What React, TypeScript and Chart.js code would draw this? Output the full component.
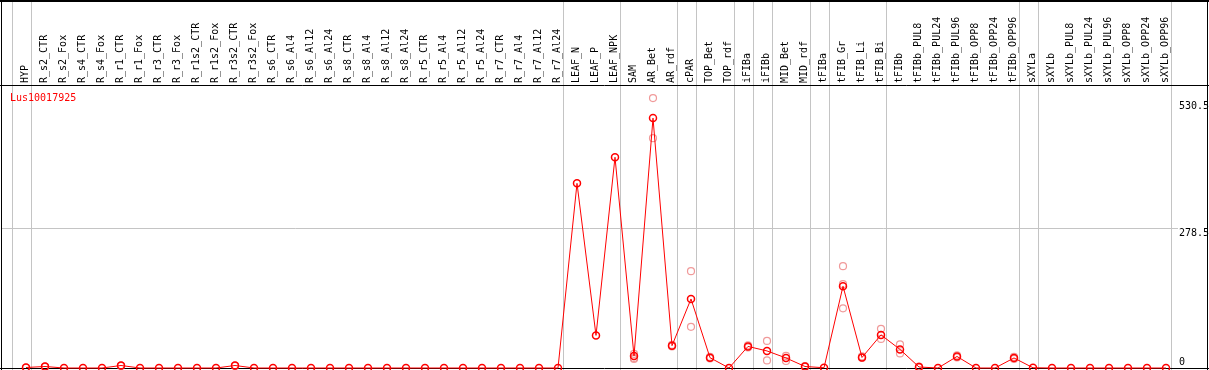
import React, { useEffect, useRef } from "react";
import { Chart, registerables } from "chart.js";

Chart.register(...registerables);

const GENE = "Lus10017925";

const categories = [
  "HYP", "R_s2_CTR", "R_s2_Fox", "R_s4_CTR", "R_s4_Fox", "R_r1_CTR", "R_r1_Fox",
  "R_r3_CTR", "R_r3_Fox", "R_r1s2_CTR", "R_r1s2_Fox", "R_r3s2_CTR", "R_r3s2_Fox",
  "R_s6_CTR", "R_s6_Al4", "R_s6_Al12", "R_s6_Al24", "R_s8_CTR", "R_s8_Al4", "R_s8_Al12",
  "R_s8_Al24", "R_r5_CTR", "R_r5_Al4", "R_r5_Al12", "R_r5_Al24", "R_r7_CTR", "R_r7_Al4",
  "R_r7_Al12", "R_r7_Al24", "LEAF_N", "LEAF_P", "LEAF_NPK", "SAM", "AR_Bet", "AR_rdf",
  "cPAR", "TOP_Bet", "TOP_rdf", "iFIBa", "iFIBb", "MID_Bet", "MID_rdf", "tFIBa",
  "tFIB_Gr", "tFIB_Li", "tFIB_Bi", "tFIBb", "tFIBb_PUL8", "tFIBb_PUL24", "tFIBb_PUL96",
  "tFIBb_OPP8", "tFIBb_OPP24", "tFIBb_OPP96", "sXYLa", "sXYLb", "sXYLb_PUL8",
  "sXYLb_PUL24", "sXYLb_PUL96", "sXYLb_OPP8", "sXYLb_OPP24", "sXYLb_OPP96",
];

const meanValues = [
  1, 3, 0, 0, 0, 5, 0, 0, 0, 0, 0, 5, 0,
  0, 0, 0, 0, 0, 0, 0, 0, 0, 0, 0, 0, 0, 0, 0, 0,
  368, 65, 420, 24, 498, 44.5,
  137.6, 20.5, 0, 43, 34, 20, 3, 0.5,
  163, 21, 66, 37, 2, 0, 23,
  0, 0, 20, 0.5, 0, 0,
  0, 0, 0, 0, 0,
];

const N = null;
const replicateA = [
  1, 3, N, N, N, 5, N, N, N, N, N, 5, N,
  N, N, N, N, N, N, N, N, N, N, N, N, N, N, N, N,
  N, N, N, 20, 538, 46,
  193, 19, N, 45, 54, 24, 4, N,
  203, 23, 78, 47, 3, N, 25,
  N, N, 22, N, N, N,
  N, N, N, N, N,
];

const replicateB = [
  N, 2, N, N, N, 4, N, N, N, N, N, 4, N,
  N, N, N, N, N, N, N, N, N, N, N, N, N, N, N, N,
  N, N, N, 28, 458, 43,
  82, 22, N, 41, 15, 14, 2, N,
  119, 20, 58, 29, 1, N, 21,
  N, N, 18, N, N, N,
  N, N, N, N, N,
];

const replicateC = [
  N, N, N, N, N, N, N, N, N, N, N, N, N,
  N, N, N, N, N, N, N, N, N, N, N, N, N, N, N, N,
  N, N, N, 18, N, N,
  N, N, N, N, N, N, N, N,
  167, N, N, N, N, N, N,
  N, N, N, N, N, N,
  N, N, N, N, N,
];

const yTicks = [530.5, 278.5, 0];
const gridTicks = [278.5];
// index of the category after which a group separator line is drawn
const groupBreaks = [-1, 0, 28, 31, 34, 35, 37, 38, 39, 41, 42, 45, 52, 53, 60];

const MONO = "10px 'DejaVu Sans Mono', monospace";

const decorations = {
  id: "decorations",
  beforeDatasetsDraw(chart: any) {
    const { ctx, scales, width, height } = chart;
    const x = scales.x;
    const y = scales.y;
    ctx.save();
    // group separators
    ctx.strokeStyle = "#c4c4c4";
    ctx.lineWidth = 1;
    for (const b of groupBreaks) {
      const px = Math.round(x.getPixelForValue(b) + 4.7) + 0.5;
      ctx.beginPath();
      ctx.moveTo(px, 0);
      ctx.lineTo(px, height);
      ctx.stroke();
    }
    // horizontal grid
    for (const t of gridTicks) {
      const py = Math.round(y.getPixelForValue(t)) + 0.5;
      ctx.beginPath();
      ctx.moveTo(1, py);
      ctx.lineTo(1178, py);
      ctx.stroke();
    }
    // borders
    ctx.strokeStyle = "#000";
    ctx.lineWidth = 2;
    ctx.beginPath();
    ctx.moveTo(0, 1);
    ctx.lineTo(width, 1);
    ctx.stroke();
    ctx.lineWidth = 1;
    ctx.beginPath();
    ctx.moveTo(1.5, 0);
    ctx.lineTo(1.5, height);
    ctx.moveTo(width - 1.5, 0);
    ctx.lineTo(width - 1.5, height);
    ctx.moveTo(0, 85.5);
    ctx.lineTo(width, 85.5);
    const by = Math.round(y.getPixelForValue(0)) + 0.5;
    ctx.moveTo(0, by);
    ctx.lineTo(width, by);
    ctx.stroke();
    ctx.restore();
  },
  afterDraw(chart: any) {
    const { ctx, scales } = chart;
    const x = scales.x;
    const y = scales.y;
    ctx.save();
    ctx.font = MONO;
    ctx.fillStyle = "#000";
    // rotated category labels
    categories.forEach((c, i) => {
      const px = x.getPixelForValue(i) - 1;
      ctx.save();
      ctx.translate(px, 83);
      ctx.rotate(-Math.PI / 2);
      ctx.textAlign = "left";
      ctx.textBaseline = "middle";
      ctx.fillText(c, 0, 0);
      ctx.restore();
    });
    // y tick labels
    ctx.textAlign = "left";
    for (const t of yTicks) {
      const py = y.getPixelForValue(t);
      if (t === 0) {
        ctx.textBaseline = "bottom";
        ctx.fillText(String(t), 1179, py - 1);
      } else {
        ctx.textBaseline = "top";
        ctx.fillText(String(t), 1179, py);
      }
    }
    // gene label
    ctx.fillStyle = "#ff0000";
    ctx.textBaseline = "top";
    ctx.fillText(GENE, 10, 93);
    ctx.restore();
  },
};

export default function App() {
  const ref = useRef<HTMLCanvasElement | null>(null);
  useEffect(() => {
    if (!ref.current) return;
    const rep = (data: (number | null)[]) => ({
      data,
      showLine: false,
      borderColor: "rgba(235,120,120,0.75)",
      backgroundColor: "rgba(0,0,0,0)",
      pointBorderColor: "rgba(235,120,120,0.75)",
      pointBackgroundColor: "rgba(0,0,0,0)",
      pointRadius: 3.5,
      pointBorderWidth: 1.2,
      clip: false as any,
    });
    const chart = new Chart(ref.current, {
      type: "line",
      data: {
        labels: categories,
        datasets: [
          {
            data: meanValues,
            borderColor: "#ff0000",
            borderWidth: 1,
            backgroundColor: "rgba(0,0,0,0)",
            pointBorderColor: "#ff0000",
            pointBackgroundColor: "rgba(0,0,0,0)",
            pointRadius: 3.5,
            pointBorderWidth: 1.5,
            tension: 0,
            clip: false as any,
          },
          rep(replicateA),
          rep(replicateB),
          rep(replicateC),
        ],
      },
      options: {
        responsive: false,
        animation: false,
        devicePixelRatio: 1,
        layout: { autoPadding: false, padding: { left: 26, right: 43, top: 86, bottom: 2 } },
        plugins: { legend: { display: false }, tooltip: { enabled: false } },
        scales: {
          x: { type: "category", display: false, offset: false },
          y: { display: false, min: 0, max: 562 },
        },
      },
      plugins: [decorations],
    });
    return () => chart.destroy();
  }, []);
  return (
    <div style={{ position: "absolute", left: 0, top: 0, width: 1209, height: 370, background: "#fff" }}>
      <canvas ref={ref} width={1209} height={370} style={{ width: 1209, height: 370, display: "block" }} />
    </div>
  );
}
